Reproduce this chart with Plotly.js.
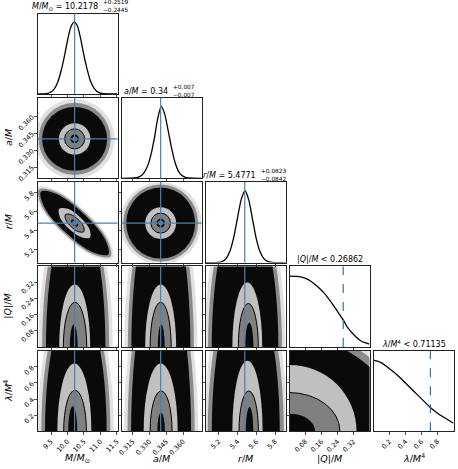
<!DOCTYPE html>
<html>
<head>
<meta charset="utf-8">
<script src="https://cdn.plot.ly/plotly-3.0.1.min.js"></script>
<style>
  html, body { margin: 0; padding: 0; background: #fff; }
  #corner { width: 458px; height: 469px; }
</style>
</head>
<body>
<div id="corner"></div>
<script>
// parameters: labels, medians and 1-sigma errors, upper limits
var labels = ['<i>M</i>/<i>M</i><sub>⊙</sub>', '<i>a</i>/<i>M</i>', '<i>r</i>/<i>M</i>', '|<i>Q</i>|/<i>M</i>', '<i>λ</i>/<i>M</i><sup>4</sup>'];
var medians = [10.2178, 0.34, 5.4771];
var medianText = ['10.2178', '0.34', '5.4771'];
var errPlus = ['+0.2519', '+0.007', '+0.0823'];
var errMinus = ['−0.2445', '−0.007', '−0.0842'];
var upperLimits = [0.26862, 0.71135];
var upperText = ['0.26862', '0.71135'];

var ranges = [[9.09, 11.52], [0.305, 0.3765], [5.06, 5.91], [0, 0.4], [0, 1]];
var tickVals = [[9.5, 10, 10.5, 11, 11.5], [0.315, 0.33, 0.345, 0.36], [5.2, 5.4, 5.6, 5.8], [0.08, 0.16, 0.24, 0.32], [0.2, 0.4, 0.6, 0.8]];
var tickText = [['9.5', '10.0', '10.5', '11.0', '11.5'], ['0.315', '0.330', '0.345', '0.360'], ['5.2', '5.4', '5.6', '5.8'], ['0.08', '0.16', '0.24', '0.32'], ['0.2', '0.4', '0.6', '0.8']];

// 1D marginals (normalised to peak)
var mHistX = [9.09, 9.3, 9.4, 9.5, 9.6, 9.7, 9.8, 9.9, 10.0, 10.1, 10.2, 10.3, 10.4, 10.5, 10.6, 10.7, 10.8, 10.9, 11.0, 11.1, 11.2, 11.52];
var mHistY = [0, 0.002, 0.009, 0.027, 0.07, 0.16, 0.31, 0.51, 0.74, 0.93, 1.0, 0.95, 0.77, 0.54, 0.34, 0.18, 0.085, 0.035, 0.012, 0.004, 0.001, 0];
var aHistX = [0.305, 0.3165, 0.3195, 0.3225, 0.3255, 0.3285, 0.3315, 0.3345, 0.3375, 0.3405, 0.3435, 0.3465, 0.3495, 0.3525, 0.3555, 0.3585, 0.3615, 0.3645, 0.3765];
var aHistY = [0, 0.004, 0.012, 0.035, 0.085, 0.18, 0.34, 0.57, 0.84, 1.0, 0.9, 0.68, 0.44, 0.24, 0.11, 0.045, 0.015, 0.004, 0];
var rHistX = [5.06, 5.2, 5.24, 5.28, 5.32, 5.36, 5.40, 5.44, 5.48, 5.52, 5.56, 5.60, 5.64, 5.68, 5.72, 5.76, 5.91];
var rHistY = [0, 0.004, 0.017, 0.06, 0.16, 0.35, 0.62, 0.88, 1.0, 0.87, 0.6, 0.33, 0.15, 0.055, 0.016, 0.004, 0];
var qHistX = [0, 0.04, 0.08, 0.11, 0.14, 0.18, 0.21, 0.24, 0.27, 0.29, 0.33, 0.36, 0.40];
var qHistY = [0.985, 0.98, 0.952, 0.907, 0.84, 0.728, 0.616, 0.493, 0.37, 0.27, 0.146, 0.078, 0.04];
var lHistX = [0, 0.05, 0.1, 0.2, 0.3, 0.4, 0.5, 0.6, 0.7, 0.8, 0.9, 1.0];
var lHistY = [0.99, 0.975, 0.95, 0.87, 0.78, 0.67, 0.56, 0.45, 0.34, 0.25, 0.18, 0.11];

// 2D regions as ellipses [cx, cy, rx, ry]: sample fringe, fringe, samples, outer level, inner level, core
var ellMA = [[10.2178, 0.34, 1.216, 0.0355], [10.2178, 0.34, 1.094, 0.032], [10.2178, 0.34, 0.988, 0.0284], [10.2178, 0.34, 0.477, 0.0140], [10.2178, 0.34, 0.304, 0.0089], [10.2178, 0.34, 0.13, 0.0038]];
var ellAR = [[0.34, 5.4771, 0.0366, 0.433], [0.34, 5.4771, 0.0335, 0.4065], [0.34, 5.4771, 0.0308, 0.375], [0.34, 5.4771, 0.01385, 0.1668], [0.34, 5.4771, 0.0087, 0.1056], [0.34, 5.4771, 0.0038, 0.0454]];
var ellMQ = [[10.25, 0, 1.125, 0.756], [10.25, 0, 1.018, 0.72], [10.25, 0, 0.903, 0.687], [10.22, 0, 0.471, 0.31], [10.23, 0, 0.355, 0.222], [10.19, 0, 0.12, 0.111]];
var ellAQ = [[0.3402, 0, 0.0326, 0.83], [0.3402, 0, 0.0295, 0.79], [0.3402, 0, 0.0264, 0.75], [0.34, 0, 0.01385, 0.31], [0.34, 0, 0.0094, 0.222], [0.3405, 0, 0.0031, 0.111]];
var ellRQ = [[5.48, 0, 0.43, 0.79], [5.48, 0, 0.393, 0.75], [5.48, 0, 0.354, 0.71], [5.504, 0, 0.159, 0.32], [5.515, 0, 0.106, 0.216], [5.525, 0, 0.044, 0.12]];
var ellML = [[10.254, 0, 1.155, 1.8], [10.254, 0, 1.049, 1.72], [10.254, 0, 0.936, 1.63], [10.21, 0, 0.517, 0.84], [10.23, 0, 0.345, 0.51], [10.16, 0, 0.137, 0.31]];
var ellAL = [[0.3404, 0, 0.0331, 2.1], [0.3404, 0, 0.03, 2.05], [0.3404, 0, 0.0268, 1.97], [0.34, 0, 0.0152, 0.84], [0.3404, 0, 0.0098, 0.50], [0.3404, 0, 0.0034, 0.23]];
var ellRL = [[5.488, 0, 0.441, 1.98], [5.488, 0, 0.404, 1.9], [5.488, 0, 0.361, 1.82], [5.506, 0, 0.161, 0.876], [5.519, 0, 0.103, 0.50], [5.528, 0, 0.040, 0.30]];
var ellQL = [[0, 0, 0.64, 1.34], [0, 0, 0.59, 1.25], [0, 0, 0.547, 1.173], [0, 0, 0.335, 0.823], [0, 0, 0.252, 0.48], [0, 0, 0.128, 0.218]];

// M vs r is tilted: contour outlines
var mrOuterM = [10.550, 9.635, 9.062, 9.166, 9.886, 10.800, 11.373, 11.269];
var mrOuterR = [5.601, 5.829, 5.852, 5.655, 5.354, 5.125, 5.103, 5.300];
var mrMidM = [10.518, 9.661, 9.129, 9.235, 9.917, 10.775, 11.307, 11.200];
var mrMidR = [5.589, 5.806, 5.830, 5.648, 5.365, 5.148, 5.124, 5.307];
var mrCloudM = [10.487, 9.686, 9.196, 9.305, 9.948, 10.750, 11.240, 11.131];
var mrCloudR = [5.577, 5.782, 5.808, 5.640, 5.377, 5.172, 5.146, 5.314];
var mrLightM = [10.384, 10.005, 9.751, 9.771, 10.052, 10.431, 10.684, 10.665];
var mrLightR = [5.539, 5.628, 5.628, 5.540, 5.415, 5.327, 5.326, 5.414];
var mrDarkM = [10.322, 10.095, 9.940, 9.948, 10.114, 10.341, 10.496, 10.488];
var mrDarkR = [5.516, 5.568, 5.567, 5.513, 5.439, 5.386, 5.387, 5.441];
var mrCoreM = [10.270, 10.184, 10.118, 10.110, 10.166, 10.252, 10.318, 10.325];
var mrCoreR = [5.496, 5.514, 5.510, 5.486, 5.458, 5.441, 5.445, 5.468];

var W = 458, H = 469;
var PW = 80, PH = 80.5;
var BLUE = '#4682b4';
var FONT = 'DejaVu Sans';
function colLeft(c) { return 37.5 + 84 * c; }
function rowTop(r) { return 13.5 + 84.3 * r; }

var levelStyle = [
	{fill: '#0a0a0a', op: 0.12, lw: 0},
	{fill: '#0a0a0a', op: 0.4, lw: 0},
	{fill: '#0a0a0a', op: 1, lw: 0},
	{fill: '#c0c0c0', op: 1, lw: 0},
	{fill: '#808080', op: 1, lw: 1},
	{fill: '#0a0a0a', op: 1, lw: 0},
];

var layout = {
	width: W, height: H,
	margin: {l: 0, r: 0, t: 0, b: 0},
	showlegend: false,
	paper_bgcolor: '#fff', plot_bgcolor: '#fff',
	font: {family: FONT, size: 6.5, color: '#000'},
	shapes: [], annotations: [],
};
var traces = [];
var npanel = 0;

function addPanel(r, c) {
	npanel++;
	var sfx = npanel === 1 ? '' : String(npanel);
	var diag = r === c;
	var common = {
		showline: true, mirror: true, linecolor: '#222', linewidth: 1,
		showgrid: false, zeroline: false, fixedrange: true,
		ticks: 'outside', ticklen: 3, tickwidth: 0.8, tickcolor: '#222',
		tickangle: -45, tickfont: {family: FONT, size: 6.6, color: '#000'},
	};
	layout['xaxis' + sfx] = Object.assign({}, common, {
		domain: [colLeft(c) / W, (colLeft(c) + PW) / W],
		anchor: 'y' + sfx,
		range: ranges[c],
		tickvals: tickVals[c], ticktext: tickText[c],
		showticklabels: r === 4,
	});
	var yax = Object.assign({}, common, {
		domain: [1 - (rowTop(r) + PH) / H, 1 - rowTop(r) / H],
		anchor: 'x' + sfx,
		range: diag ? [0, 1.12] : ranges[r],
		showticklabels: !diag && c === 0,
	});
	if (diag) yax.ticks = '';
	else { yax.tickvals = tickVals[r]; yax.ticktext = tickText[r]; }
	layout['yaxis' + sfx] = yax;
	return {x: 'x' + sfx, y: 'y' + sfx};
}

function addEllipses(ax, list) {
	list.forEach(function (e, k) {
		var s = levelStyle[k];
		layout.shapes.push({
			type: 'circle', layer: 'below', xref: ax.x, yref: ax.y,
			x0: e[0] - e[2], x1: e[0] + e[2], y0: e[1] - e[3], y1: e[1] + e[3],
			fillcolor: s.fill, opacity: s.op,
			line: {width: s.lw, color: '#000'},
		});
	});
}

function addOutline(ax, xs, ys, k) {
	var s = levelStyle[k];
	traces.push({
		x: xs.concat([xs[0]]), y: ys.concat([ys[0]]),
		xaxis: ax.x, yaxis: ax.y,
		type: 'scatter', mode: 'lines', fill: 'toself',
		fillcolor: s.fill, opacity: s.op,
		line: {shape: 'spline', smoothing: 1, width: s.lw, color: '#000'},
		hoverinfo: 'skip',
	});
}

function addHist(ax, xs, ys) {
	traces.push({
		x: xs, y: ys, xaxis: ax.x, yaxis: ax.y,
		type: 'scatter', mode: 'lines',
		line: {shape: 'spline', smoothing: 0.7, width: 1.3, color: '#000'},
		hoverinfo: 'skip',
	});
}

function vline(ax, v, color, dash) {
	layout.shapes.push({type: 'line', layer: 'above', xref: ax.x, yref: ax.y + ' domain',
		x0: v, x1: v, y0: 0, y1: 1, line: {color: color, width: 1.2, dash: dash || 'solid'}});
}
function hline(ax, v) {
	layout.shapes.push({type: 'line', layer: 'above', xref: ax.x + ' domain', yref: ax.y,
		x0: 0, x1: 1, y0: v, y1: v, line: {color: BLUE, width: 1.2}});
}
function truthDot(ax, xv, yv) {
	traces.push({x: [xv], y: [yv], xaxis: ax.x, yaxis: ax.y, type: 'scatter', mode: 'markers',
		marker: {color: BLUE, size: 5}, hoverinfo: 'skip'});
}

function ann(text, px, py, xanchor, size, extra) {
	layout.annotations.push(Object.assign({
		text: text, x: px / W, y: 1 - py / H, xref: 'paper', yref: 'paper',
		showarrow: false, xanchor: xanchor, yanchor: 'middle',
		font: {family: FONT, size: size, color: '#000'},
	}, extra || {}));
}

var hists = [[mHistX, mHistY], [aHistX, aHistY], [rHistX, rHistY], [qHistX, qHistY], [lHistX, lHistY]];
var ellipses = {'1,0': ellMA, '2,1': ellAR, '3,0': ellMQ, '3,1': ellAQ, '3,2': ellRQ,
	'4,0': ellML, '4,1': ellAL, '4,2': ellRL, '4,3': ellQL};

for (var r = 0; r < 5; r++) {
	for (var c = 0; c <= r; c++) {
		var ax = addPanel(r, c);
		if (r === c) {
			addHist(ax, hists[c][0], hists[c][1]);
			if (c < 3) vline(ax, medians[c], BLUE);
			else vline(ax, upperLimits[c - 3], '#1f77b4', 'dash');
			continue;
		}
		if (r === 2 && c === 0) {
			addOutline(ax, mrOuterM, mrOuterR, 0);
			addOutline(ax, mrMidM, mrMidR, 1);
			addOutline(ax, mrCloudM, mrCloudR, 2);
			addOutline(ax, mrLightM, mrLightR, 3);
			addOutline(ax, mrDarkM, mrDarkR, 4);
			addOutline(ax, mrCoreM, mrCoreR, 5);
		} else {
			addEllipses(ax, ellipses[r + ',' + c]);
		}
		if (c < 3) vline(ax, medians[c], BLUE);
		if (r < 3) {
			hline(ax, medians[r]);
			truthDot(ax, medians[c], medians[r]);
		}
	}
}

// titles over the diagonal
var titleSplit = [22.5, 8.5, 12.5];
for (var k = 0; k < 5; k++) {
	var cx = colLeft(k) + PW / 2;
	var ty = rowTop(k) - 6.5;
	if (k < 3) {
		ann(labels[k] + ' = ' + medianText[k], cx + titleSplit[k], ty, 'right', 8);
		ann(errPlus[k] + '<br>' + errMinus[k], cx + titleSplit[k] + 0.5, ty - 0.5, 'left', 5.8, {align: 'left'});
	} else {
		ann(labels[k] + ' &lt; ' + upperText[k - 3], cx, ty, 'center', 8);
	}
}

// axis labels
for (var j = 0; j < 5; j++) {
	ann(labels[j], colLeft(j) + PW / 2, 458, 'center', 9.5);
	if (j > 0) ann(labels[j], 8, rowTop(j) + PH / 2, 'center', 9.5, {textangle: -90});
}

Plotly.newPlot('corner', traces, layout, {staticPlot: true});
</script>
</body>
</html>
